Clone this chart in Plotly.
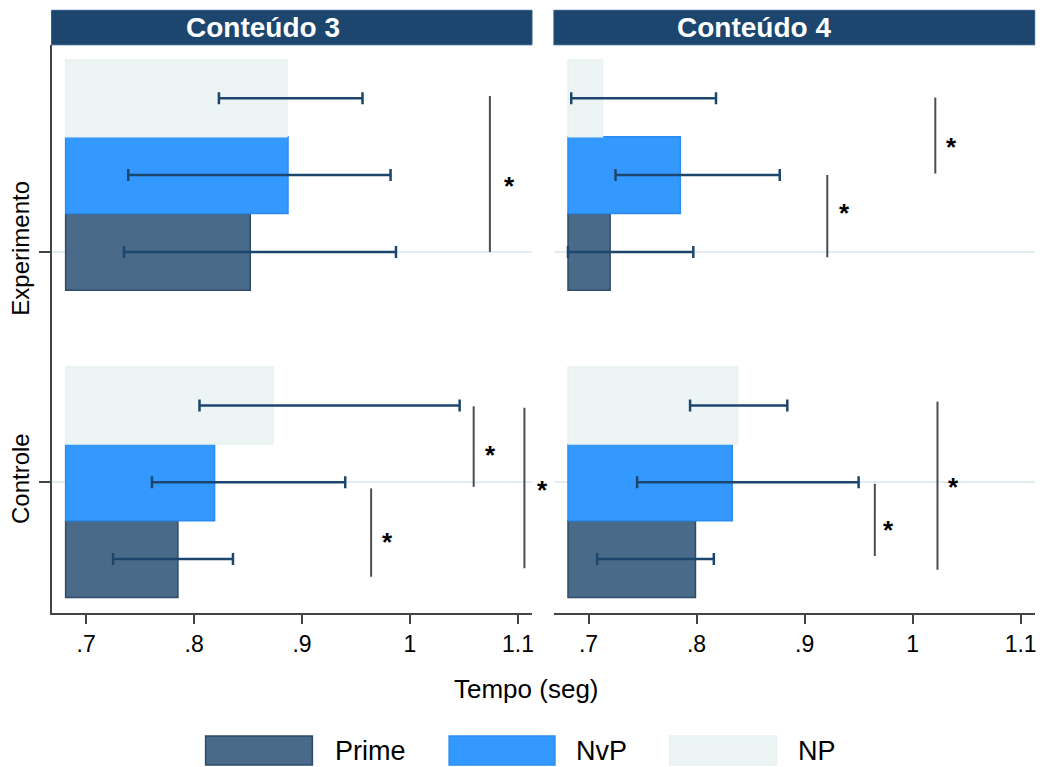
import plotly.graph_objects as go

# ---- data: mean response time (seconds) per group [Controle, Experimento] ----
series = ["Prime", "NvP", "NP"]
groups = ["Controle", "Experimento"]
panels = ["Conteúdo 3", "Conteúdo 4"]
x_ticks = [0.7, 0.8, 0.9, 1.0, 1.1]
x_tick_text = [".7", ".8", ".9", "1", "1.1"]

c3_prime = [0.785, 0.852]
c3_nvp = [0.819, 0.887]
c3_np = [0.873, 0.886]
c4_prime = [0.799, 0.720]
c4_nvp = [0.833, 0.785]
c4_np = [0.838, 0.713]

# interval bounds, same order
c3_prime_lo = [0.725, 0.735]
c3_prime_hi = [0.836, 0.987]
c3_nvp_lo = [0.761, 0.739]
c3_nvp_hi = [0.940, 0.982]
c3_np_lo = [0.805, 0.823]
c3_np_hi = [1.046, 0.956]
c4_prime_lo = [0.708, 0.681]
c4_prime_hi = [0.816, 0.797]
c4_nvp_lo = [0.745, 0.725]
c4_nvp_hi = [0.950, 0.877]
c4_np_lo = [0.794, 0.684]
c4_np_hi = [0.884, 0.818]

# significance brackets: (x, y_from, y_to) in row units, and star positions (x, y)
c3_brackets = [(1.074, 5.0, 7.03), (1.059, 1.94, 2.99), (0.964, 0.77, 1.92), (1.106, 0.88, 2.97)]
c3_stars = [(1.092, 5.93), (1.075, 2.44), (0.979, 1.30), (1.123, 1.98)]
c4_brackets = [(1.021, 6.02, 7.01), (0.921, 4.93, 6.00), (0.965, 1.04, 1.98), (1.023, 0.86, 3.05)]
c4_stars = [(1.036, 6.45), (0.937, 5.58), (0.978, 1.46), (1.038, 2.02)]

# ---- styling ----
W, H = 1043, 767
BAR_BASE = 0.681
X_RANGE = [0.668, 1.113]
Y_RANGE = [0.294, 7.697]
GROUP_ROW = [1, 5]          # first row of each group; series stacked upward
FONT = "Liberation Sans, Arial, sans-serif"
NAVY = "#1c466e"
AXIS_C = "#444444"
fills = {"Prime": "#4a6a8a", "NvP": "#3399ff", "NP": "#edf4f4"}
edges = {"Prime": "#2d4b69", "NvP": "#2a8cf0", "NP": "#e8f1f1"}

panel_data = [
    {"means": [c3_prime, c3_nvp, c3_np],
     "lo": [c3_prime_lo, c3_nvp_lo, c3_np_lo],
     "hi": [c3_prime_hi, c3_nvp_hi, c3_np_hi],
     "brackets": c3_brackets, "stars": c3_stars},
    {"means": [c4_prime, c4_nvp, c4_np],
     "lo": [c4_prime_lo, c4_nvp_lo, c4_np_lo],
     "hi": [c4_prime_hi, c4_nvp_hi, c4_np_hi],
     "brackets": c4_brackets, "stars": c4_stars},
]


def px_x(p):
    return p / W


def px_y(p):
    return 1 - p / H


fig = go.Figure()
annotations = []
shapes = []

for pi, pdat in enumerate(panel_data):
    xa = "x" if pi == 0 else "x2"
    ya = "y" if pi == 0 else "y2"
    for si, name in enumerate(series):
        rows = [GROUP_ROW[g] + si for g in range(len(groups))]
        vals = pdat["means"][si]
        fig.add_trace(go.Bar(
            orientation="h", y=rows, x=[v - BAR_BASE for v in vals], base=BAR_BASE,
            width=1, name=name, showlegend=False,
            marker=dict(color=fills[name], line=dict(color=edges[name], width=1.5)),
            xaxis=xa, yaxis=ya,
        ))
    for si, name in enumerate(series):
        rows = [GROUP_ROW[g] + si for g in range(len(groups))]
        vals = pdat["means"][si]
        lo = pdat["lo"][si]
        hi = pdat["hi"][si]
        fig.add_trace(go.Scatter(
            x=vals, y=rows, mode="markers", marker=dict(opacity=0, size=1),
            error_x=dict(type="data", symmetric=False,
                         array=[h - v for h, v in zip(hi, vals)],
                         arrayminus=[v - l for v, l in zip(vals, lo)],
                         color=NAVY, thickness=2.5, width=6),
            showlegend=False, hoverinfo="skip", xaxis=xa, yaxis=ya,
        ))
    bx, by = [], []
    for (x, y0, y1) in pdat["brackets"]:
        bx += [x, x, None]
        by += [y0, y1, None]
    fig.add_trace(go.Scatter(
        x=bx, y=by, mode="lines", line=dict(color="#4d4d4d", width=2),
        showlegend=False, hoverinfo="skip", xaxis=xa, yaxis=ya,
    ))
    for (x, y) in pdat["stars"]:
        frac = (x - X_RANGE[0]) / (X_RANGE[1] - X_RANGE[0])
        annotations.append(dict(
            text="*", x=frac, y=y, xref=f"{xa} domain", yref=ya,
            showarrow=False, xanchor="center", yanchor="middle", yshift=-6,
            font=dict(family=FONT, size=26, color="black", weight="bold"),
        ))
    # panel header strip
    shapes.append(dict(type="rect", xref=f"{xa} domain", yref="paper",
                       x0=0, x1=1, y0=px_y(44.8), y1=px_y(10.3),
                       fillcolor=NAVY, line=dict(color="#2c5680", width=1), layer="above"))

annotations.append(dict(text="<b>Conteúdo 3</b>", x=px_x(264), y=px_y(27.5), xref="paper", yref="paper",
                        showarrow=False, xanchor="center", yanchor="middle",
                        font=dict(family=FONT, size=28, color="white")))
annotations.append(dict(text="<b>Conteúdo 4</b>", x=px_x(755), y=px_y(27.5), xref="paper", yref="paper",
                        showarrow=False, xanchor="center", yanchor="middle",
                        font=dict(family=FONT, size=28, color="white")))

# x axis title
annotations.append(dict(text="Tempo (seg)", x=px_x(528), y=px_y(689), xref="paper", yref="paper",
                        showarrow=False, xanchor="center", yanchor="middle",
                        font=dict(family=FONT, size=26, color="black")))

# legend row
legend_boxes = [(206, 313, 334), (450, 556, 575), (671, 778, 798)]
for name, (x0, x1, tx) in zip(series, legend_boxes):
    shapes.append(dict(type="rect", xref="paper", yref="paper",
                       x0=px_x(x0), x1=px_x(x1), y0=px_y(765), y1=px_y(736),
                       fillcolor=fills[name], line=dict(color=edges[name], width=1.5)))
    annotations.append(dict(text=name, x=px_x(tx), y=px_y(751), xref="paper", yref="paper",
                            showarrow=False, xanchor="left", yanchor="middle",
                            font=dict(family=FONT, size=27, color="black")))

x_common = dict(range=X_RANGE, tickvals=x_ticks, ticktext=x_tick_text, ticks="outside",
                ticklen=9, tickwidth=2, tickcolor=AXIS_C, showline=True, linecolor=AXIS_C,
                linewidth=2, showgrid=False, zeroline=False,
                tickfont=dict(family=FONT, size=23, color="black"))
y_common = dict(range=Y_RANGE, domain=[px_y(613.3), px_y(44.8)], tickvals=[2, 5],
                ticktext=groups, showgrid=True, gridcolor="#e3edf1", gridwidth=2,
                zeroline=False)

fig.update_layout(
    width=W, height=H, margin=dict(l=0, r=0, t=0, b=0),
    paper_bgcolor="white", plot_bgcolor="white", barmode="overlay",
    showlegend=False, font=dict(family=FONT, color="black"),
    xaxis=dict(domain=[px_x(51.7), px_x(533)], anchor="y", **x_common),
    xaxis2=dict(domain=[px_x(555), px_x(1036.7)], anchor="y2", **x_common),
    yaxis=dict(anchor="x", showline=True, linecolor=AXIS_C, linewidth=2, ticks="outside",
               ticklen=11, tickwidth=2, tickcolor=AXIS_C, tickangle=-90,
               tickfont=dict(family=FONT, size=24, color="black"), **y_common),
    yaxis2=dict(anchor="x2", showline=False, ticks="", showticklabels=False, **y_common),
    annotations=annotations, shapes=shapes,
)

fig.write_html("out.html")
